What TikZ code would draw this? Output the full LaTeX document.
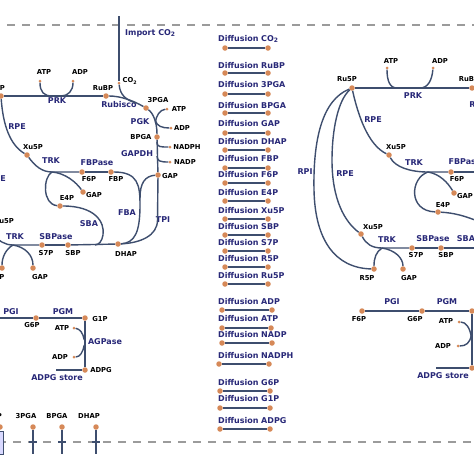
\documentclass[tikz,border=0pt]{standalone}
\usepackage{fontspec}
\setmainfont{DejaVu Sans}
\definecolor{dotc}{RGB}{214,137,88}
\definecolor{linec}{RGB}{62,78,110}
\definecolor{enzc}{RGB}{40,40,120}
\definecolor{sepc}{RGB}{155,155,155}
\tikzset{
 met/.style={circle, fill=dotc, inner sep=0pt, minimum size=5.5pt},
 smet/.style={circle, fill=dotc, inner sep=0pt, minimum size=3pt},
 rx/.style={draw=linec, line width=1.4pt},
 dln/.style={draw=linec, line width=1.2pt},
 enz/.style={text=enzc, font=\fontsize{8}{9}\selectfont\bfseries, inner sep=0pt},
 lab/.style={text=black, font=\fontsize{6.8}{8}\selectfont\bfseries, inner sep=0pt},
 dif/.style={text=enzc, font=\fontsize{8}{9}\selectfont\bfseries, inner sep=0pt, anchor=west},
 sepline/.style={draw=sepc, line width=1.3pt, dash pattern=on 8pt off 7pt},
 tick/.style={draw=linec, line width=1.2pt},
}
\begin{document}
\begin{tikzpicture}[x=1pt,y=-1pt]
\clip (0,0) rectangle (474,474);
\fill[white] (0,0) rectangle (474,474);

% separators
\coordinate (stA) at (7,25); \coordinate (stB) at (480,25);
\coordinate (sbA) at (-2,442); \coordinate (sbB) at (480,442);
\draw[sepline] (stA) -- (stB);
\draw[sepline] (sbA) -- (sbB);

% ================= LEFT MODULE =================
\node[met] (ru5pL) at (1,96) {};
\node[lab] (ru5pLt) at (-5,88) {Ru5P};
\node[met] (rubpL) at (106,96) {};
\node[lab] (rubpLt) at (103,88) {RuBP};
\node[smet] (atpL1) at (40,81) {};
\node[lab] (atpL1t) at (44,72) {ATP};
\node[smet] (adpL1) at (73,81) {};
\node[lab] (adpL1t) at (80,72) {ADP};
\node[enz] (prkL) at (57,101) {PRK};
\coordinate (impL) at (119,16);
\node[smet] (co2L) at (119,83) {};
\node[lab] (co2Lt) at (130,81) {CO\textsubscript{2}};
\node[enz,anchor=west] (impLt) at (125,33) {Import CO\textsubscript{2}};
\node[met] (pgaL) at (146,108) {};
\node[lab] (pgaLt) at (158,100) {3PGA};
\node[enz] (rubiscoL) at (119,105) {Rubisco};
\node[smet] (atpL2) at (167,109) {};
\node[lab] (atpL2t) at (179,109) {ATP};
\node[smet] (adpL2) at (171,128) {};
\node[lab] (adpL2t) at (182,128) {ADP};
\node[enz] (pgkL) at (140,122) {PGK};
\node[met] (bpgaL) at (157,137) {};
\node[lab] (bpgaLt) at (141,137) {BPGA};
\node[smet] (nadphL) at (170,147) {};
\node[lab] (nadphLt) at (187,147) {NADPH};
\node[smet] (nadpL) at (170,162) {};
\node[lab] (nadpLt) at (185,162) {NADP};
\node[enz] (gapdhL) at (137,154) {GAPDH};
\node[met] (gapL) at (158,175) {};
\node[lab] (gapLt) at (170,176) {GAP};
\node[enz] (tpiL) at (163,220) {TPI};
\node[enz] (fbaL) at (127,213) {FBA};
\node[met] (dhapL) at (118,244) {};
\node[lab] (dhapLt) at (126,254) {DHAP};
\node[met] (fbpL) at (111,172) {};
\node[lab] (fbpLt) at (116,179) {FBP};
\node[met] (f6pL) at (82,172) {};
\node[lab] (f6pLt) at (89,179) {F6P};
\node[enz] (fbpaseL) at (97,163) {FBPase};
\node[met] (xu5pL) at (27,155) {};
\node[lab] (xu5pLt) at (33,147) {Xu5P};
\node[enz] (rpeL) at (17,127) {RPE};
\node[enz] (trkL1) at (51,161) {TRK};
\coordinate (jL1) at (52,172);
\node[met] (gapL2) at (83,192) {};
\node[lab] (gapL2t) at (94,195) {GAP};
\node[met] (e4pL) at (60,206) {};
\node[lab] (e4pLt) at (67,198) {E4P};
\node[enz] (sbaL) at (89,224) {SBA};
\node[met] (s7pL) at (42,245) {};
\node[lab] (s7pLt) at (46,253) {S7P};
\node[met] (sbpL) at (68,245) {};
\node[lab] (sbpLt) at (73,253) {SBP};
\node[enz] (sbpaseL) at (56,237) {SBPase};
\coordinate (jL2) at (13,245);
\node[enz] (trkL2) at (15,237) {TRK};
\node[met] (xu5pL2) at (-8,231) {};
\node[lab] (xu5pL2t) at (4,221) {Xu5P};
\node[enz] (rpeL2) at (-3,179) {RPE};
\node[met] (r5pL) at (2,268) {};
\node[lab] (r5pLt) at (-3,277) {R5P};
\node[met] (gapL3) at (33,268) {};
\node[lab] (gapL3t) at (40,277) {GAP};
\coordinate (offL1) at (-30,200);
\coordinate (offL2) at (-20,200);

% left connectors
\draw[rx] (ru5pL) -- (rubpL);
\draw[rx] (atpL1) .. controls (40,92) and (44,96) .. (52,96);
\draw[rx] (adpL1) .. controls (73,91) and (68,96) .. (61,96);
\draw[rx] (impL) -- (co2L);
\draw[rx] (co2L) .. controls (120,95) and (126,100) .. (136,103);
\draw[rx] (rubpL) .. controls (120,96) and (132,100) .. (pgaL);
\draw[rx] (pgaL) .. controls (153,113) and (157,122) .. (bpgaL);
\draw[rx] (atpL2) .. controls (160,110) and (156,115) .. (155.5,123);
\draw[rx] (adpL2) .. controls (162,128) and (157,126) .. (155.5,121);
\draw[rx] (bpgaL) -- (gapL);
\draw[rx] (157,142) .. controls (157,147) and (160,147) .. (nadphL);
\draw[rx] (157,156) .. controls (157,161) and (160,162) .. (nadpL);
\draw[rx] (gapL) -- (157.5,220) .. controls (157.5,236) and (140,243) .. (dhapL);
\draw[rx] (fbpL) .. controls (138,172) and (140,185) .. (140,205) .. controls (140,232) and (135,243) .. (dhapL);
\draw[rx] (gapL) .. controls (145,176) and (140,183) .. (140,198);
\draw[rx] (f6pL) -- (fbpL);
\draw[rx] (ru5pL) .. controls (3,125) and (10,145) .. (xu5pL);
\draw[rx] (ru5pL) .. controls (-4,105) and (-8,125) .. (offL2);
\draw[rx] (ru5pL) .. controls (-12,100) and (-22,120) .. (offL1);
\draw[rx] (xu5pL) .. controls (35,166) and (42,172) .. (jL1) -- (f6pL);
\draw[rx] (jL1) .. controls (65,173) and (76,182) .. (gapL2);
\draw[rx] (jL1) .. controls (43,177) and (42,204) .. (e4pL);
\draw[rx] (e4pL) .. controls (95,206) and (105,222) .. (103,235) .. controls (102,241) and (99,245) .. (95,245);
\draw[rx] (xu5pL2) .. controls (-2,241) and (5,245) .. (jL2) -- (s7pL);
\draw[rx] (s7pL) -- (sbpL);
\draw[rx] (sbpL) -- (dhapL);
\draw[rx] (jL2) .. controls (6,249) and (2,257) .. (r5pL);
\draw[rx] (jL2) .. controls (25,247) and (33,255) .. (gapL3);

% left lower (starch)
\node[met] (f6pL2) at (-24,318) {};
\node[met] (g6pL) at (36,318) {};
\node[lab] (g6pLt) at (32,325) {G6P};
\node[met] (g1pL) at (85,318) {};
\node[lab] (g1pLt) at (100,319) {G1P};
\node[enz] (pgiL) at (11,312) {PGI};
\node[enz] (pgmL) at (63,312) {PGM};
\node[smet] (atpL3) at (74,328) {};
\node[lab] (atpL3t) at (62,328) {ATP};
\node[smet] (adpL3) at (74,357) {};
\node[lab] (adpL3t) at (60,357) {ADP};
\node[enz] (agpL) at (105,342) {AGPase};
\node[met] (adpgL) at (85,370) {};
\node[lab] (adpgLt) at (101,370) {ADPG};
\coordinate (storeL) at (56,370);
\node[enz] (storeLt) at (57,378) {ADPG store};
\draw[rx] (f6pL2) -- (g6pL);
\draw[rx] (g6pL) -- (g1pL);
\draw[rx] (g1pL) -- (adpgL);
\draw[rx] (atpL3) .. controls (80,329) and (83,333) .. (84.3,340);
\draw[rx] (adpL3) .. controls (80,357) and (83,352) .. (84.3,345);
\draw[rx] (storeL) -- (adpgL);

% bottom left exchange
\draw[draw=linec, line width=0.8pt, fill=blue!15] (-5,431) rectangle (3,454);
\node[met] (bl0) at (0,427) {};
\node[lab] (bl0t) at (-6,416) {GAP};
\node[met] (bl1) at (33,427) {};
\node[lab] (bl1t) at (26,416) {3PGA};
\node[met] (bl2) at (62,427) {};
\node[lab] (bl2t) at (57,416) {BPGA};
\node[met] (bl3) at (96,427) {};
\node[lab] (bl3t) at (89,416) {DHAP};
\coordinate (bl1e) at (33,454);
\coordinate (bl2e) at (62,454);
\coordinate (bl3e) at (96,454);
\draw[rx] (bl1) -- (bl1e);
\draw[rx] (bl2) -- (bl2e);
\draw[rx] (bl3) -- (bl3e);
\draw[tick] (29,442) -- (37,442);
\draw[tick] (58,442) -- (66,442);
\draw[tick] (92,442) -- (100,442);

% ================= DIFFUSION COLUMN =================
\foreach \k/\t/\ly/\dy/\xa/\xb in {
 a/{CO\textsubscript{2}}/39/48/225/268,
 b/RuBP/66/73/225/268,
 c/3PGA/85/94/225/268,
 d/BPGA/106/113/225/268,
 e/GAP/124/133/225/268,
 f/DHAP/142/150/225/268,
 g/FBP/159/168/225/268,
 h/F6P/175/183/225/268,
 i/E4P/193/201/225/268,
 j/Xu5P/211/219/225/268,
 k/SBP/227/235/225/268,
 l/S7P/243/251/225/268,
 m/R5P/259/267/225/268,
 n/Ru5P/276/284/225/268,
 o/ADP/302/310/222/272,
 p/ATP/319/328/222/271,
 q/NADP/335/343/222/272,
 r/NADPH/356/364/219/269,
 s/G6P/383/391/220/270,
 t/G1P/399/408/220/270,
 u/ADPG/421/429/220/270}
{
 \node[dif] (dl\k) at (218,\ly) {Diffusion \t};
 \node[met] (dp\k) at (\xa,\dy) {};
 \node[met] (dq\k) at (\xb,\dy) {};
 \draw[dln] (dp\k) -- (dq\k);
}

% ================= RIGHT MODULE =================
\node[met] (ru5pR) at (352,88) {};
\node[lab] (ru5pRt) at (347,79) {Ru5P};
\node[met] (rubpR) at (472,88) {};
\node[lab] (rubpRt) at (469,79) {RuBP};
\node[smet] (atpR1) at (387,68) {};
\node[lab] (atpR1t) at (391,61) {ATP};
\node[smet] (adpR1) at (433,68) {};
\node[lab] (adpR1t) at (440,61) {ADP};
\node[enz] (prkR) at (413,96) {PRK};
\node[enz] (rubiscoR) at (487,105) {Rubisco};
\node[met] (xu5pR) at (389,155) {};
\node[lab] (xu5pRt) at (396,147) {Xu5P};
\node[enz] (rpeR) at (373,120) {RPE};
\node[enz] (rpiR) at (305,172) {RPI};
\node[enz] (rpeR2) at (345,174) {RPE};
\node[met] (xu5pR2) at (361,234) {};
\node[lab] (xu5pR2t) at (373,227) {Xu5P};
\node[met] (r5pR) at (374,269) {};
\node[lab] (r5pRt) at (367,278) {R5P};
\node[met] (gapR2) at (403,269) {};
\node[lab] (gapR2t) at (409,278) {GAP};
\coordinate (jR2) at (382,248);
\node[enz] (trkR2) at (387,240) {TRK};
\node[met] (s7pR) at (412,248) {};
\node[lab] (s7pRt) at (416,255) {S7P};
\node[met] (sbpR) at (441,248) {};
\node[lab] (sbpRt) at (446,255) {SBP};
\node[enz] (sbpaseR) at (433,239) {SBPase};
\node[enz] (sbaR) at (466,239) {SBA};
\coordinate (sbpRe) at (480,248);
\coordinate (jR1) at (428,172);
\node[enz] (trkR1) at (414,163) {TRK};
\node[met] (f6pR) at (451,172) {};
\node[lab] (f6pRt) at (457,179) {F6P};
\node[enz] (fbpaseR) at (465,162) {FBPase};
\coordinate (f6pRe) at (480,172);
\node[met] (gapR) at (454,193) {};
\node[lab] (gapRt) at (465,196) {GAP};
\node[met] (e4pR) at (438,212) {};
\node[lab] (e4pRt) at (443,205) {E4P};
\coordinate (sbaRe) at (480,222);

\draw[rx] (ru5pR) -- (rubpR);
\draw[rx] (atpR1) .. controls (387,81) and (390,88) .. (397,88);
\draw[rx] (adpR1) .. controls (432,80) and (428,88) .. (420,88);
\draw[rx] (ru5pR) .. controls (358,115) and (368,145) .. (xu5pR);
\draw[rx] (ru5pR) .. controls (322,100) and (313,140) .. (314,190) .. controls (315,240) and (335,268) .. (r5pR);
\draw[rx] (ru5pR) .. controls (338,100) and (332,130) .. (332,160) .. controls (332,200) and (345,222) .. (xu5pR2);
\draw[rx] (xu5pR) .. controls (395,167) and (410,172) .. (jR1) -- (f6pR);
\draw[rx] (f6pR) -- (f6pRe);
\draw[rx] (jR1) .. controls (440,174) and (448,183) .. (gapR);
\draw[rx] (jR1) .. controls (410,178) and (408,211) .. (e4pR);
\draw[rx] (e4pR) .. controls (455,213) and (465,216) .. (sbaRe);
\draw[rx] (xu5pR2) .. controls (366,244) and (372,248) .. (jR2) -- (s7pR);
\draw[rx] (s7pR) -- (sbpR);
\draw[rx] (sbpR) -- (sbpRe);
\draw[rx] (jR2) .. controls (376,252) and (374,258) .. (r5pR);
\draw[rx] (jR2) .. controls (395,250) and (403,258) .. (gapR2);

% right lower (starch)
\node[met] (f6pR2) at (362,311) {};
\node[lab] (f6pR2t) at (359,319) {F6P};
\node[met] (g6pR) at (422,311) {};
\node[lab] (g6pRt) at (415,319) {G6P};
\node[met] (g1pR) at (472,311) {};
\node[enz] (pgiR) at (392,302) {PGI};
\node[enz] (pgmR) at (447,302) {PGM};
\node[smet] (atpR3) at (459,322) {};
\node[lab] (atpR3t) at (446,321) {ATP};
\node[smet] (adpR3) at (458,346) {};
\node[lab] (adpR3t) at (443,346) {ADP};
\node[met] (adpgR) at (472,368) {};
\coordinate (storeR) at (436,368);
\node[enz] (storeRt) at (443,376) {ADPG store};
\draw[rx] (f6pR2) -- (g6pR);
\draw[rx] (g6pR) -- (g1pR);
\draw[rx] (g1pR) -- (adpgR);
\draw[rx] (atpR3) .. controls (466,322) and (470,328) .. (471.3,337);
\draw[rx] (adpR3) .. controls (466,346) and (470,343) .. (471.3,335);
\draw[rx] (storeR) -- (adpgR);
\end{tikzpicture}
\end{document}
